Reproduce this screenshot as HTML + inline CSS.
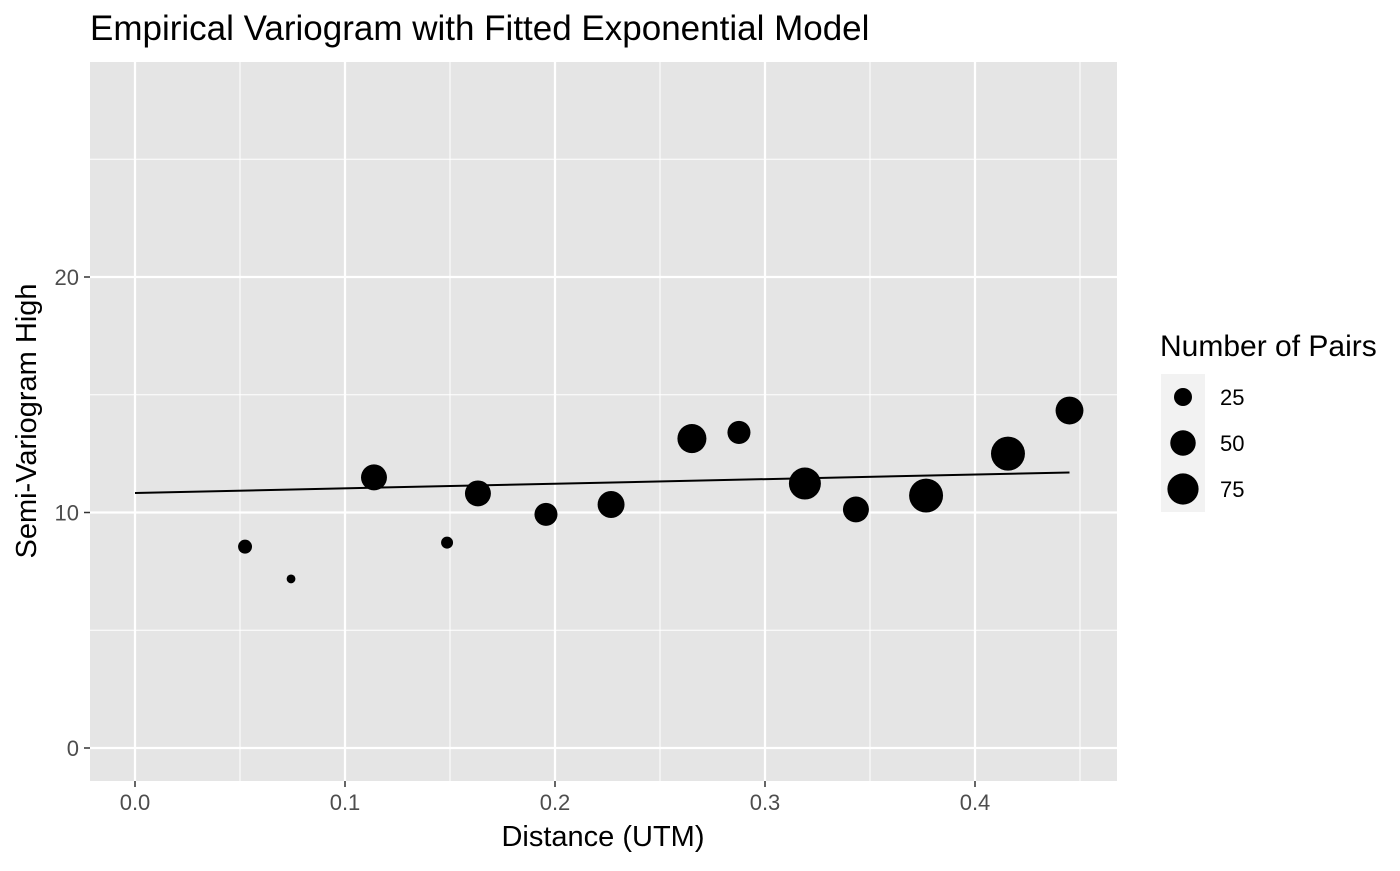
<!DOCTYPE html>
<html><head><meta charset="utf-8"><style>
body{margin:0;background:#fff;font-family:"Liberation Sans",Arial,sans-serif}
</style></head><body>
<svg id="chart" width="1400" height="866" xmlns="http://www.w3.org/2000/svg" font-family="Liberation Sans, Arial, sans-serif">
<text x="90" y="40" font-size="35" fill="#000">Empirical Variogram with Fitted Exponential Model</text>
<rect x="90" y="62" width="1027" height="719" fill="#e5e5e5"/>
<g id="grid"></g><g id="marks"></g><g id="axes"></g>
<text x="603" y="846" font-size="29" text-anchor="middle" fill="#000">Distance (UTM)</text>
<text transform="translate(36,421) rotate(-90)" font-size="29" text-anchor="middle" fill="#000">Semi-Variogram High</text>
<g id="legend">
<text x="1160" y="356" font-size="30" fill="#000">Number of Pairs</text>
</g>
</svg>
<script>
const dist=[0.0524,0.0743,0.1138,0.1486,0.1633,0.1957,0.2267,0.2652,0.2876,0.319,0.3433,0.3767,0.4157,0.445];
const gamma=[8.55,7.18,11.49,8.72,10.81,9.92,10.34,13.14,13.4,11.23,10.13,10.72,12.5,14.33];
const npairs=[15,6,52,11,52,41,56,65,41,79,52,89,89,60];
const lineDist=[0,0.445];
const lineGamma=[10.83,11.7];
const xTicks=[0,0.1,0.2,0.3,0.4];
const xTickLabels=["0.0","0.1","0.2","0.3","0.4"];
const yTicks=[0,10,20];
const yTickLabels=["0","10","20"];
const legendVals=[25,50,75];
const NS="http://www.w3.org/2000/svg";
const X=v=>135+v*2100;
const Y=v=>748-v*23.55;
const R=n=>Math.sqrt(n)*1.8;
function mk(t,a,p){const e=document.createElementNS(NS,t);for(const k in a)e.setAttribute(k,a[k]);p.appendChild(e);return e;}
const grid=document.getElementById('grid'),marks=document.getElementById('marks'),axes=document.getElementById('axes'),leg=document.getElementById('legend');
[0.05,0.15,0.25,0.35,0.45].forEach(v=>{const l=mk('line',{x1:X(v),x2:X(v),y1:62,y2:781,stroke:'#fff','stroke-width':1},grid);

});
[5,15,25].forEach(v=>{const l=mk('line',{x1:90,x2:1117,y1:Y(v),y2:Y(v),stroke:'#fff','stroke-width':1},grid);

});
xTicks.forEach((v,i)=>{const l=mk('line',{x1:X(v),x2:X(v),y1:62,y2:781,stroke:'#fff','stroke-width':2.2},grid);


const t=mk('line',{x1:X(v),x2:X(v),y1:781,y2:787,stroke:'#333','stroke-width':1.5},axes);


const tx=mk('text',{x:X(v),y:810,'font-size':22,'text-anchor':'middle',fill:'#4d4d4d'},axes);tx.textContent=xTickLabels[i];

});
yTicks.forEach((v,i)=>{const l=mk('line',{x1:90,x2:1117,y1:Y(v),y2:Y(v),stroke:'#fff','stroke-width':2.2},grid);


const t=mk('line',{x1:84,x2:90,y1:Y(v),y2:Y(v),stroke:'#333','stroke-width':1.5},axes);


const tx=mk('text',{x:79,y:Y(v)+8,'font-size':22,'text-anchor':'end',fill:'#4d4d4d'},axes);tx.textContent=yTickLabels[i];

});
const ln=mk('polyline',{points:lineDist.map((d,i)=>X(d)+','+Y(lineGamma[i])).join(' '),fill:'none',stroke:'#000','stroke-width':2},marks);


dist.forEach((d,i)=>{const c=mk('circle',{cx:X(d),cy:Y(gamma[i]),r:R(npairs[i]),fill:'#000'},marks);

});
legendVals.forEach((v,i)=>{const cy=397+i*46;
const b=mk('rect',{x:1161,y:cy-23,width:44,height:46,fill:'#f2f2f2'},leg);


const c=mk('circle',{cx:1183,cy:cy,r:R(v),fill:'#000'},leg);


const t=mk('text',{x:1220,y:cy+8,'font-size':22,fill:'#000'},leg);t.textContent=String(v);

});
</script>
</body></html>
